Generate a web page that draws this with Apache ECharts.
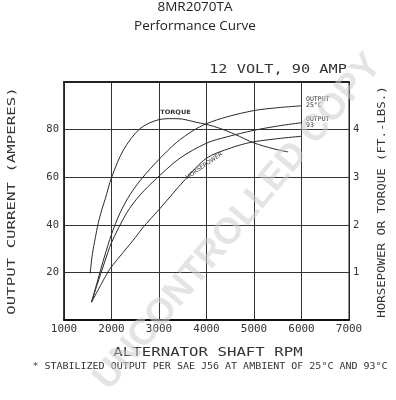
<!DOCTYPE html>
<html>
<head>
<meta charset="utf-8">
<script src="https://cdn.jsdelivr.net/npm/echarts@6/dist/echarts.min.js"></script>
<style>html,body{margin:0;padding:0;background:#fff}#c{width:396px;height:400px}</style>
</head>
<body>
<div id="c"></div>
<script>
// ---- data ----
const xTicks = [1000, 2000, 3000, 4000, 5000, 6000, 7000];
const leftTicks = [20, 40, 60, 80];
const rightTicks = [1, 2, 3, 4];

const torqueRpm = [1550, 1600, 1660, 1720, 1800, 1870, 2000, 2250, 2600, 3000, 3300, 3500, 3800, 4000, 4300, 4600, 5000, 5400, 5720];
const torqueFtLbs = [0.98, 1.40, 1.73, 2.03, 2.33, 2.55, 2.99, 3.57, 4.02, 4.21, 4.23, 4.22, 4.15, 4.11, 4.02, 3.90, 3.72, 3.60, 3.53];

const out25Rpm = [1580, 1700, 1850, 2000, 2180, 2400, 2640, 3000, 3370, 3720, 4000, 4420, 5000, 5500, 6000];
const out25Amps = [7.5, 16, 26.5, 36, 45, 53, 59.5, 67.5, 74.6, 79.6, 82.5, 85.3, 88, 89.2, 90];

const out93Rpm = [1580, 1700, 1850, 2000, 2320, 2600, 2950, 3440, 4000, 4420, 5000, 5500, 6000];
const out93Amps = [7.5, 15, 24, 32.5, 45, 52.5, 59.5, 68, 74.3, 76.9, 79.7, 81.5, 82.9];

const hpRpm = [1580, 1920, 2000, 2500, 2650, 3000, 3550, 4000, 4500, 4920, 5500, 6000];
const hpVal = [0.375, 1.0, 1.12, 1.73, 1.93, 2.32, 2.95, 3.40, 3.61, 3.73, 3.81, 3.86];

const zip = (a, b) => a.map((v, i) => [v, b[i]]);

const chart = echarts.init(document.getElementById('c'), null, {renderer: 'canvas'});
const mono = 'DejaVu Sans Mono';
const ink = '#2a2a2a';

const lineSeries = (name, data, yIdx) => ({
  name, type: 'line', data, yAxisIndex: yIdx, smooth: 0.3, showSymbol: false,
  lineStyle: {color: ink, width: 1}, silent: true, z: 5
});

chart.setOption({
  animation: false,
  backgroundColor: '#fff',
  grid: {left: 64, right: 47, top: 82, bottom: 80, show: true, borderColor: '#222', borderWidth: 1},
  xAxis: [{
    type: 'value', min: 1000, max: 7000, interval: 1000, position: 'bottom',
    axisLine: {show: true, onZero: false, lineStyle: {color: '#111', width: 2}},
    axisTick: {show: false},
    axisLabel: {show: true, margin: 4, fontFamily: mono, fontSize: 11, color: '#333',
      showMinLabel: true, showMaxLabel: true,
      formatter: v => xTicks.includes(v) ? String(v) : ''},
    splitLine: {show: true, lineStyle: {color: '#333', width: 1}}
  }, {
    type: 'value', min: 1000, max: 7000, interval: 1000, position: 'top',
    axisLine: {show: true, onZero: false, lineStyle: {color: '#222', width: 2}},
    axisTick: {show: false}, axisLabel: {show: false}, splitLine: {show: false}
  }],
  yAxis: [{
    type: 'value', min: 0, max: 100, interval: 20, position: 'left',
    axisLine: {show: true, onZero: false, lineStyle: {color: '#222', width: 1.5}},
    axisTick: {show: false},
    axisLabel: {margin: 5, fontFamily: mono, fontSize: 10.5, color: '#333',
      formatter: v => leftTicks.includes(v) ? String(v) : ''},
    splitLine: {show: true, lineStyle: {color: '#333', width: 1}}
  }, {
    type: 'value', min: 0, max: 5, interval: 1, position: 'right',
    axisLine: {show: true, onZero: false, lineStyle: {color: '#222', width: 1}},
    axisTick: {show: false},
    axisLabel: {margin: 4, fontFamily: mono, fontSize: 10.5, color: '#333',
      formatter: v => rightTicks.includes(v) ? String(v) : ''},
    splitLine: {show: false}
  }],
  series: [
    lineSeries('Torque', zip(torqueRpm, torqueFtLbs), 1),
    lineSeries('Output 25°C', zip(out25Rpm, out25Amps), 0),
    lineSeries('Output 93°C', zip(out93Rpm, out93Amps), 0),
    lineSeries('Horsepower', zip(hpRpm, hpVal), 1)
  ]
});

const px = (x, y, idx) => chart.convertToPixel({xAxisIndex: 0, yAxisIndex: idx}, [x, y]);

function txt(text, x, y, font, opts) {
  opts = opts || {};
  return {
    type: 'text', x, y, rotation: opts.rot || 0, scaleX: opts.sx || 1, z: opts.z || 10,
    style: {text, font, fill: opts.fill || '#333', align: opts.align || 'center', verticalAlign: 'middle'}
  };
}

const tq = px(3347, 4.36, 1);
const o25 = px(6095, 4.57, 1);
const o93 = px(6095, 4.16, 1);
const hpL = px(3950, 3.24, 1);

chart.setOption({
  graphic: [
    txt('8MR2070TA', 195, 7, '13.5px "Open Sans"', {fill: '#222'}),
    txt('Performance Curve', 195, 26, '13.5px "Open Sans"', {fill: '#222'}),
    txt('12 VOLT, 90 AMP', 278, 70, '12px "' + mono + '"', {sx: 1.27}),
    txt('OUTPUT CURRENT (AMPERES)', 12, 201, '11px "' + mono + '"', {sx: 1.43, rot: Math.PI / 2}),
    txt('HORSEPOWER OR TORQUE (FT.-LBS.)', 382, 202, '10px "' + mono + '"', {sx: 1.24, rot: Math.PI / 2}),
    txt('ALTERNATOR SHAFT RPM', 208, 353, '12px "' + mono + '"', {sx: 1.31}),
    txt('* STABILIZED OUTPUT PER SAE J56 AT AMBIENT OF 25°C AND 93°C', 210, 367, '8px "' + mono + '"', {sx: 1.25}),
    txt('TORQUE', tq[0], tq[1], 'bold 6px "DejaVu Sans"', {sx: 1.1}),
    txt('OUTPUT', o25[0], o25[1] - 3, '6.5px "' + mono + '"', {align: 'left'}),
    txt('25°C', o25[0], o25[1] + 3, '6.5px "' + mono + '"', {align: 'left'}),
    txt('OUTPUT', o93[0], o93[1] - 3, '6.5px "' + mono + '"', {align: 'left'}),
    txt('93', o93[0], o93[1] + 3, '6.5px "' + mono + '"', {align: 'left'}),
    txt('HORSEPOWER', hpL[0], hpL[1], '6px "DejaVu Sans"', {rot: 0.6}),
    {
      type: 'text', x: 238, y: 222, rotation: 50 * Math.PI / 180, z: 100,
      style: {text: 'UNCONTROLLED COPY', font: 'bold 37px "Liberation Sans"', fill: 'rgba(205,205,205,0.55)',
        align: 'center', verticalAlign: 'middle'}
    }
  ]
});
</script>
</body>
</html>
